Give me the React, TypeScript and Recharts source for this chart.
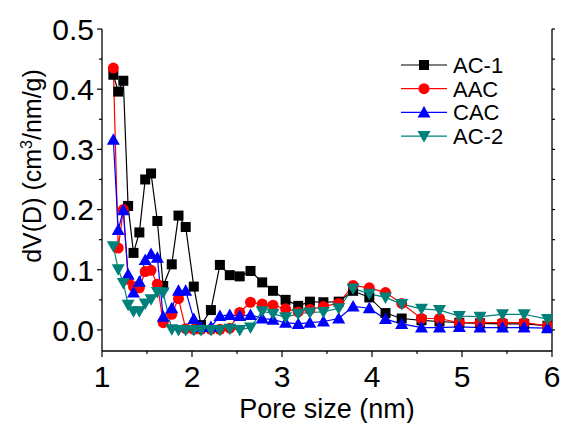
import { LineChart, Line, XAxis, YAxis, Legend } from 'recharts'

// pore size (nm), shared by all four samples
const poreSize = [
  1.126, 1.18, 1.237, 1.29, 1.35, 1.415, 1.48, 1.545, 1.615, 1.68, 1.775, 1.85, 1.93, 2.02, 2.1, 2.21, 2.31,
  2.42, 2.53, 2.65, 2.78, 2.9, 3.04, 3.18, 3.31, 3.46, 3.63, 3.79, 3.97, 4.15, 4.33, 4.55, 4.75, 4.97, 5.2,
  5.45, 5.69, 5.95,
]

const ac1 = [
  0.424, 0.396, 0.414, 0.206, 0.128, 0.162, 0.25, 0.26, 0.181, 0.073, 0.109, 0.19, 0.171, 0.072, 0.008, 0.033,
  0.108, 0.091, 0.089, 0.098, 0.079, 0.065, 0.05, 0.04, 0.047, 0.046, 0.047, 0.065, 0.054, 0.028, 0.019, 0.016,
  0.014, 0.012, 0.011, 0.01, 0.01, 0.007,
]
const aac = [
  0.435, 0.136, 0.2, 0.084, 0.072, 0.07, 0.097, 0.099, 0.076, 0.012, 0.026, 0.052, 0.002, 0.001, 0.001, 0.001,
  0.001, 0.003, 0.029, 0.046, 0.043, 0.041, 0.035, 0.03, 0.034, 0.039, 0.044, 0.074, 0.07, 0.062, 0.044, 0.019,
  0.019, 0.012, 0.012, 0.012, 0.012, 0.007,
]
const cac = [
  0.316, 0.166, 0.199, 0.092, 0.062, 0.08, 0.116, 0.126, 0.12, 0.022, 0.036, 0.065, 0.065, 0.018, 0.005, 0.005,
  0.023, 0.025, 0.023, 0.025, 0.019, 0.017, 0.012, 0.01, 0.012, 0.014, 0.019, 0.039, 0.036, 0.018, 0.01, 0.004,
  0.004, 0.005, 0.004, 0.004, 0.004, 0.003,
]
const ac2 = [
  0.139, 0.101, 0.078, 0.042, 0.031, 0.031, 0.044, 0.051, 0.063, 0.062, 0.001, 0, 0, 0, 0, 0, 0, 0.002, 0,
  0.004, 0.031, 0.027, 0.021, 0.027, 0.029, 0.03, 0.036, 0.069, 0.06, 0.054, 0.043, 0.035, 0.033, 0.023, 0.022,
  0.026, 0.026, 0.018,
]

const xTicks = [1, 1.5, 2, 2.5, 3, 3.5, 4, 4.5, 5, 5.5, 6]
const yTicks = [0, 0.05, 0.1, 0.15, 0.2, 0.25, 0.3, 0.35, 0.4, 0.45, 0.5]

const SERIES = [
  { key: 'ac1', name: 'AC-1', color: '#000000', shape: 'square', values: ac1 },
  { key: 'aac', name: 'AAC', color: '#ff0000', shape: 'circle', values: aac },
  { key: 'cac', name: 'CAC', color: '#0000ff', shape: 'up', values: cac },
  { key: 'ac2', name: 'AC-2', color: '#00807a', shape: 'down', values: ac2 },
]

const data = poreSize.map((x, i) => {
  const row: Record<string, number> = { x }
  for (const s of SERIES) row[s.key] = s.values[i]
  return row
})

const FONT = '"Liberation Sans", Arial, sans-serif'

function Marker({ shape, cx, cy, color }: { shape: string; cx: number; cy: number; color: string }) {
  if (shape === 'square') return <rect x={cx - 5} y={cy - 5} width={10} height={10} fill={color} />
  if (shape === 'circle') return <circle cx={cx} cy={cy} r={5.5} fill={color} />
  if (shape === 'up')
    return <polygon points={`${cx},${cy - 6.5} ${cx + 6.5},${cy + 5} ${cx - 6.5},${cy + 5}`} fill={color} />
  return <polygon points={`${cx},${cy + 6.5} ${cx + 6.5},${cy - 5} ${cx - 6.5},${cy - 5}`} fill={color} />
}

function LeftTick({ x, y, payload }: any) {
  const v = payload.value
  const major = Math.abs(v * 10 - Math.round(v * 10)) < 1e-6
  return (
    <g>
      <line x1={x} x2={x - (major ? 5 : 3)} y1={y} y2={y} stroke="#000" strokeWidth={1.2} />
      {major && (
        <text x={x - 8} y={y} dy="0.36em" textAnchor="end" fontSize={30} fontFamily={FONT} fill="#000">
          {v.toFixed(1)}
        </text>
      )}
    </g>
  )
}

function RightTick({ x, y }: any) {
  return <line x1={x} x2={x + 3} y1={y} y2={y} stroke="#000" strokeWidth={1.2} />
}

function BottomTick({ x, y, payload }: any) {
  const v = payload.value
  const major = Number.isInteger(v)
  return (
    <g>
      <line x1={x} x2={x} y1={y} y2={y + (major ? 6 : 3)} stroke="#000" strokeWidth={1.2} />
      {major && (
        <text x={x} y={y + 36} textAnchor="middle" fontSize={30} fontFamily={FONT} fill="#000">
          {v}
        </text>
      )}
    </g>
  )
}

function TopTick({ x, y }: any) {
  return <line x1={x} x2={x} y1={y} y2={y + 2} stroke="#000" strokeWidth={1} />
}

function LegendBox() {
  return (
    <svg width={130} height={100} style={{ display: 'block' }}>
      {SERIES.map((s, i) => {
        const cy = 13 + i * 23.7
        return (
          <g key={s.key}>
            <line x1={1} x2={47} y1={cy} y2={cy} stroke={s.color} strokeWidth={1.2} />
            <Marker shape={s.shape} cx={24} cy={cy} color={s.color} />
            <text x={53} y={cy} dy="0.36em" fontSize={22} fontFamily={FONT} fill="#000">
              {s.name}
            </text>
          </g>
        )
      })}
    </svg>
  )
}

export default function App() {
  return (
    <div style={{ position: 'absolute', left: 0, top: 0, background: '#fff' }}>
      <LineChart width={562} height={423} data={data} margin={{ top: 29, right: 0, bottom: 0, left: 0 }}>
        <XAxis
          dataKey="x"
          type="number"
          domain={[1, 6]}
          ticks={xTicks}
          interval={0}
          allowDataOverflow
          height={72}
          tickSize={0}
          tickMargin={0}
          tickLine={false}
          tick={<BottomTick />}
          axisLine={{ stroke: '#000', strokeWidth: 1.3 }}
          label={{
            value: 'Pore size (nm)',
            position: 'insideBottom',
            offset: 5,
            fontSize: 27,
            fontFamily: FONT,
            fill: '#000',
          }}
        />
        <XAxis
          xAxisId="top"
          orientation="top"
          type="number"
          domain={[1, 6]}
          ticks={xTicks}
          interval={0}
          allowDataOverflow
          height={0}
          tickSize={0}
          tickMargin={0}
          tickLine={false}
          tick={<TopTick />}
          axisLine={{ stroke: '#000', strokeWidth: 1.3 }}
        />
        <YAxis
          type="number"
          domain={[-0.035, 0.5]}
          ticks={yTicks}
          interval={0}
          allowDataOverflow
          width={102}
          tickSize={0}
          tickMargin={0}
          tickLine={false}
          tick={<LeftTick />}
          axisLine={{ stroke: '#000', strokeWidth: 1.3 }}
          label={{
            content: () => (
              <text
                x={41}
                y={166}
                transform="rotate(-90, 41, 166)"
                textAnchor="middle"
                fontSize={25}
                fontFamily={FONT}
                fill="#000"
              >
                dV(D) (cm
                <tspan dy={-9} fontSize={16}>
                  3
                </tspan>
                <tspan dy={9}>/nm/g)</tspan>
              </text>
            ),
          }}
        />
        <YAxis
          yAxisId="right"
          orientation="right"
          type="number"
          domain={[-0.035, 0.5]}
          ticks={yTicks}
          interval={0}
          allowDataOverflow
          width={10}
          tickSize={0}
          tickMargin={0}
          tickLine={false}
          tick={<RightTick />}
          axisLine={{ stroke: '#000', strokeWidth: 1.3 }}
        />
        <Legend
          layout="vertical"
          align="center"
          verticalAlign="middle"
          wrapperStyle={{ left: 400, top: 52, width: 130 }}
          content={() => <LegendBox />}
        />
        {SERIES.map((s) => (
          <Line
            key={s.key}
            dataKey={s.key}
            name={s.name}
            stroke={s.color}
            strokeWidth={1.2}
            isAnimationActive={false}
            dot={(p: any) => <Marker key={`${s.key}-${p.index}`} shape={s.shape} cx={p.cx} cy={p.cy} color={s.color} />}
            activeDot={false}
          />
        ))}
      </LineChart>
    </div>
  )
}
